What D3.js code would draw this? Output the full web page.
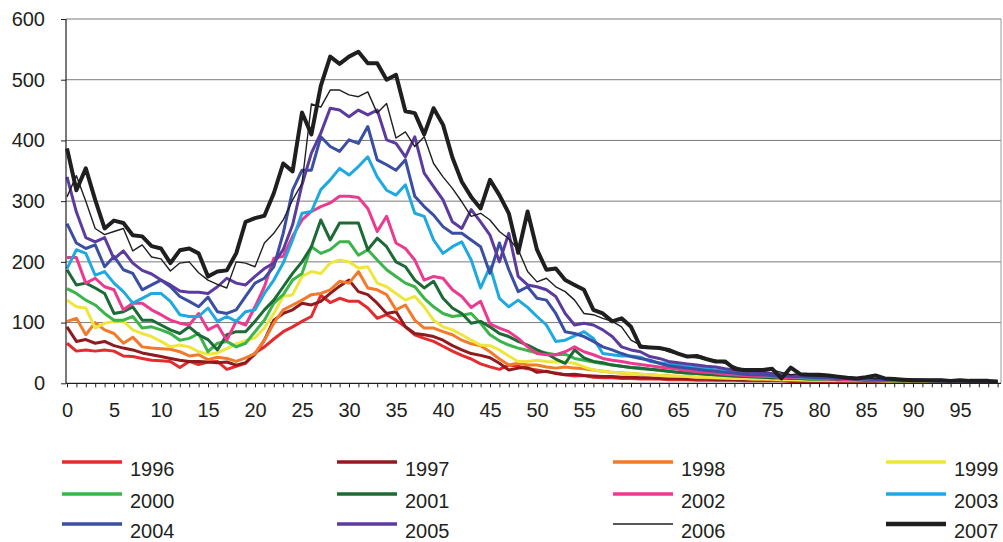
<!DOCTYPE html>
<html>
<head>
<meta charset="utf-8">
<script src="https://cdn.jsdelivr.net/npm/d3@7"></script>
<style>
body { margin: 0; background: #fff; }
svg { display: block; }
text { font-family: "Liberation Sans", Arial, sans-serif; fill: #231f20; }
</style>
</head>
<body>
<script>
// values per year, index 0..99 on the x axis

var years = ["1996", "1997", "1998", "1999", "2000", "2001", "2002", "2003", "2004", "2005", "2006", "2007"];

var v1996 = [66, 53, 55, 53, 55, 53, 45, 44, 41, 38,
  37, 36, 26, 36, 31, 35, 36, 23, 28, 33,
  50, 60, 73, 85, 93, 102, 110, 145, 133, 140,
  135, 135, 124, 107, 113, 104, 93, 80, 74, 69,
  61, 53, 46, 40, 32, 27, 23, 30, 28, 24,
  22, 19, 17, 14, 12, 13, 10, 9, 9, 8,
  8, 7, 7, 7, 6, 6, 6, 5, 5, 5,
  5, 5, 4, 4, 4, 4, 4, 3, 3, 3,
  3, 3, 3, 3, 3, 2, 2, 2, 2, 2,
  2, 2, 2, 2, 2, 2, 2, 2, 2, 2];

var v1997 = [93, 69, 72, 66, 69, 62, 58, 55, 50, 47,
  44, 41, 38, 36, 36, 35, 34, 35, 30, 34,
  48, 71, 104, 115, 121, 132, 129, 135, 148, 160,
  170, 151, 146, 132, 115, 118, 93, 82, 80, 77,
  71, 62, 55, 49, 46, 42, 33, 22, 25, 26,
  18, 20, 16, 14, 15, 13, 12, 11, 11, 10,
  10, 9, 9, 8, 8, 8, 7, 7, 7, 6,
  6, 6, 6, 5, 5, 5, 5, 4, 4, 4,
  4, 4, 4, 3, 3, 3, 3, 3, 3, 3,
  2, 2, 2, 2, 2, 2, 2, 2, 2, 2];

var v1998 = [102, 107, 80, 100, 88, 82, 66, 76, 60, 58,
  57, 56, 52, 45, 47, 39, 43, 41, 36, 42,
  49, 71, 99, 121, 129, 137, 146, 148, 154, 168,
  165, 184, 157, 154, 146, 121, 129, 104, 91, 91,
  85, 80, 71, 65, 62, 52, 40, 30, 33, 30,
  30, 27, 25, 27, 25, 24, 22, 20, 18, 17,
  16, 15, 14, 13, 12, 11, 11, 10, 9, 9,
  8, 8, 8, 7, 7, 6, 6, 6, 5, 5,
  5, 5, 4, 4, 4, 4, 4, 3, 3, 3,
  3, 3, 3, 3, 2, 2, 2, 2, 2, 2];

var v1999 = [137, 126, 124, 91, 99, 102, 102, 88, 82, 77,
  69, 60, 63, 60, 52, 48, 50, 57, 65, 70,
  75, 91, 115, 143, 146, 176, 184, 181, 198, 203,
  200, 190, 192, 165, 159, 148, 137, 143, 126, 104,
  93, 88, 80, 71, 63, 62, 55, 45, 36, 36,
  38, 36, 35, 35, 33, 27, 22, 20, 18, 17,
  16, 15, 14, 13, 12, 12, 11, 10, 10, 9,
  9, 8, 8, 7, 7, 7, 6, 6, 6, 5,
  5, 5, 5, 4, 4, 4, 4, 4, 3, 3,
  3, 3, 3, 3, 3, 2, 2, 2, 2, 2];

var v2000 = [156, 148, 137, 129, 115, 104, 104, 110, 91, 93,
  88, 82, 71, 74, 82, 52, 66, 69, 60, 66,
  85, 104, 132, 146, 170, 181, 225, 214, 220, 233,
  233, 211, 220, 203, 187, 176, 165, 159, 140, 126,
  115, 110, 112, 115, 99, 80, 70, 63, 58, 54,
  50, 50, 47, 48, 41, 38, 35, 32, 30, 28,
  26, 24, 23, 21, 20, 18, 17, 16, 15, 14,
  13, 12, 11, 10, 10, 9, 9, 8, 8, 7,
  7, 7, 6, 6, 6, 5, 5, 5, 4, 4,
  6, 5, 4, 4, 3, 3, 3, 3, 2, 2];

var v2001 = [187, 162, 165, 157, 148, 115, 118, 126, 104, 104,
  96, 88, 82, 93, 80, 72, 55, 80, 85, 85,
  102, 121, 137, 159, 181, 200, 225, 269, 236, 264,
  264, 264, 220, 239, 225, 200, 192, 170, 157, 168,
  140, 124, 115, 99, 102, 93, 82, 77, 69, 63,
  55, 49, 40, 33, 55, 42, 36, 34, 30, 28,
  26, 25, 23, 22, 20, 18, 17, 16, 15, 14,
  13, 12, 11, 11, 10, 9, 9, 8, 8, 7,
  7, 7, 6, 6, 6, 5, 5, 5, 4, 4,
  4, 4, 4, 3, 3, 3, 3, 3, 2, 2];

var v2002 = [207, 207, 165, 173, 159, 154, 121, 132, 132, 121,
  113, 104, 99, 96, 115, 88, 96, 71, 102, 96,
  126, 159, 206, 209, 242, 269, 283, 291, 297, 308,
  308, 306, 288, 250, 275, 231, 222, 203, 170, 176,
  173, 154, 143, 125, 135, 98, 91, 85, 74, 60,
  49, 47, 47, 52, 60, 52, 47, 41, 38, 36,
  33, 31, 29, 27, 25, 23, 21, 19, 18, 17,
  15, 14, 13, 12, 11, 11, 10, 9, 9, 8,
  8, 7, 7, 6, 6, 6, 5, 5, 5, 4,
  4, 4, 4, 4, 3, 3, 3, 3, 3, 2];

var v2003 = [189, 220, 214, 178, 184, 165, 151, 132, 140, 148,
  148, 135, 113, 110, 110, 124, 102, 110, 102, 118,
  121, 148, 170, 198, 236, 280, 283, 319, 335, 354,
  343, 357, 373, 340, 318, 310, 327, 280, 275, 236,
  214, 225, 233, 203, 157, 192, 140, 126, 137, 125,
  110, 96, 69, 71, 78, 85, 74, 49, 47, 45,
  45, 43, 36, 34, 32, 30, 28, 26, 24, 22,
  20, 18, 16, 22, 15, 13, 12, 11, 10, 10,
  9, 9, 8, 8, 7, 7, 6, 6, 5, 5,
  5, 5, 4, 4, 4, 4, 3, 3, 3, 3];

var v2004 = [263, 231, 222, 228, 192, 209, 187, 181, 154, 162,
  170, 159, 143, 135, 126, 142, 118, 115, 121, 143,
  165, 173, 192, 247, 318, 351, 351, 406, 390, 382,
  401, 395, 423, 368, 360, 351, 368, 308, 291, 277,
  258, 247, 247, 236, 225, 181, 231, 187, 151, 159,
  140, 137, 115, 85, 82, 77, 69, 60, 55, 49,
  44, 41, 38, 33, 29, 27, 25, 23, 21, 20,
  18, 17, 15, 14, 14, 13, 12, 11, 11, 10,
  9, 9, 8, 8, 7, 7, 6, 6, 6, 5,
  5, 5, 4, 4, 4, 4, 3, 3, 3, 3];

var v2005 = [340, 282, 240, 233, 240, 205, 218, 198, 186, 180,
  170, 162, 152, 150, 150, 148, 159, 173, 165, 162,
  176, 189, 198, 220, 261, 327, 379, 412, 453, 450,
  439, 450, 442, 450, 401, 395, 373, 406, 346, 324,
  302, 266, 255, 286, 266, 244, 200, 247, 176, 162,
  159, 154, 143, 115, 96, 99, 96, 88, 77, 60,
  55, 52, 44, 41, 36, 34, 32, 30, 28, 27,
  24, 22, 20, 18, 18, 16, 15, 13, 12, 12,
  11, 10, 10, 9, 8, 8, 7, 7, 6, 6,
  6, 5, 5, 5, 4, 4, 4, 3, 3, 3];

var v2006 = [307, 342, 300, 255, 245, 250, 255, 218, 228, 208,
  205, 185, 198, 200, 182, 170, 163, 157, 200, 198,
  192, 231, 247, 269, 302, 329, 460, 455, 483, 483,
  475, 472, 480, 445, 461, 404, 414, 390, 406, 362,
  340, 321, 299, 275, 280, 269, 250, 238, 220, 184,
  167, 173, 159, 151, 137, 115, 113, 107, 102, 93,
  71, 63, 60, 58, 52, 48, 45, 42, 40, 38,
  33, 28, 22, 22, 20, 22, 18, 14, 16, 14,
  12, 12, 11, 10, 9, 9, 8, 8, 7, 6,
  6, 5, 5, 5, 4, 4, 4, 3, 3, 3];

var v2007 = [387, 318, 354, 302, 255, 268, 264, 244, 242, 226,
  222, 198, 219, 222, 214, 176, 184, 186, 214, 266,
  272, 276, 313, 362, 349, 446, 410, 490, 538, 526,
  538, 546, 527, 527, 500, 508, 448, 445, 410, 453,
  426, 372, 332, 307, 288, 335, 310, 280, 215, 283,
  220, 187, 189, 170, 162, 154, 121, 115, 102, 107,
  93, 60, 59, 58, 55, 49, 44, 45, 40, 36,
  36, 24, 22, 22, 22, 24, 8, 26, 15, 14,
  14, 13, 11, 9, 8, 10, 13, 8, 7, 6,
  5, 5, 5, 5, 4, 5, 4, 4, 4, 3];

var yTicks = [0, 100, 200, 300, 400, 500, 600];
var xTicks = [0, 5, 10, 15, 20, 25, 30, 35, 40, 45, 50, 55, 60, 65, 70, 75, 80, 85, 90, 95];

var values = [v1996, v1997, v1998, v1999, v2000, v2001, v2002, v2003, v2004, v2005, v2006, v2007];
var colors = ["#e52b2d", "#8f1b1f", "#f27a2c", "#eee63c", "#3bb54a", "#1c6a35",
              "#ec3a8f", "#1ea9e1", "#3a4fa1", "#5b3c9e", "#1f1f1f", "#1f1f1f"];
var widths = [3, 3, 3, 3, 3, 3, 3, 3, 3, 3, 1.4, 4];

var W = 1003, H = 542;
var plot = {left: 66, right: 1001, top: 19, bottom: 383.3};

var svg = d3.select("body").append("svg")
    .attr("width", W)
    .attr("height", H);

svg.append("rect").attr("width", W).attr("height", H).attr("fill", "#fff");

var x = d3.scaleLinear().domain([0, 99]).range([67, 997.6]),
    y = d3.scaleLinear().domain([0, 600]).range([plot.bottom, plot.top]),
    z = d3.scaleOrdinal().domain(years).range(colors);

// gridlines
svg.append("g")
  .selectAll("line")
  .data(yTicks.slice(1))
  .enter().append("line")
    .attr("x1", plot.left).attr("x2", plot.right)
    .attr("y1", function(d) { return y(d); })
    .attr("y2", function(d) { return y(d); })
    .attr("stroke", "#7a7a7a")
    .attr("stroke-width", 1);

// right frame edge
svg.append("line")
    .attr("x1", plot.right).attr("x2", plot.right)
    .attr("y1", plot.top).attr("y2", plot.bottom)
    .attr("stroke", "#9a9a9a");

// y axis
var yAxis = svg.append("g")
    .attr("transform", "translate(" + plot.left + ",0)")
    .call(d3.axisLeft(y).tickValues(yTicks).tickSize(5).tickPadding(16));
yAxis.select(".domain").remove();
yAxis.selectAll("line").attr("stroke", "#231f20");
yAxis.selectAll("text").style("font-size", "20px").attr("fill", "#231f20");

// x axis: a tick mark per day, a label every fifth
var xMarks = svg.append("g")
    .attr("transform", "translate(0," + plot.bottom + ")")
    .call(d3.axisBottom(x).tickValues(d3.range(0, 100)).tickSize(4).tickFormat(""));
xMarks.select(".domain").remove();
xMarks.selectAll("line").attr("stroke", "#231f20");

var xLab = svg.append("g")
    .attr("transform", "translate(0," + plot.bottom + ")")
    .call(d3.axisBottom(x).tickValues(xTicks).tickSize(0).tickPadding(19.5));
xLab.select(".domain").remove();
xLab.selectAll("text").style("font-size", "20px").attr("fill", "#231f20");

// series
var line = d3.line()
    .x(function(d, i) { return x(i); })
    .y(function(d) { return y(d); });

svg.append("g")
  .selectAll("path")
  .data(values)
  .enter().append("path")
    .attr("d", line)
    .attr("fill", "none")
    .attr("stroke", function(d, i) { return z(years[i]); })
    .attr("stroke-width", function(d, i) { return widths[i]; })
    .attr("stroke-linejoin", "round");

// axis lines on top
svg.append("line")
    .attr("x1", plot.left).attr("x2", plot.left)
    .attr("y1", plot.top).attr("y2", plot.bottom)
    .attr("stroke", "#231f20").attr("stroke-width", 1.2);
svg.append("line")
    .attr("x1", plot.left).attr("x2", plot.right)
    .attr("y1", plot.bottom).attr("y2", plot.bottom)
    .attr("stroke", "#231f20").attr("stroke-width", 1.2);

// legend, 4 columns x 3 rows
var legCols = [62, 337, 613, 886],
    legRows = [462, 494, 524];

var leg = svg.append("g")
  .selectAll("g")
  .data(years)
  .enter().append("g")
    .attr("transform", function(d, i) {
      return "translate(" + legCols[i % 4] + "," + legRows[Math.floor(i / 4)] + ")";
    });

leg.append("line")
    .attr("x1", 0).attr("x2", 60)
    .attr("stroke", function(d) { return z(d); })
    .attr("stroke-width", function(d, i) { return widths[i] + 0.3; });

leg.append("text")
    .attr("x", 68)
    .attr("y", 13.5)
    .style("font-size", "20px")
    .text(function(d) { return d; });
</script>
</body>
</html>
